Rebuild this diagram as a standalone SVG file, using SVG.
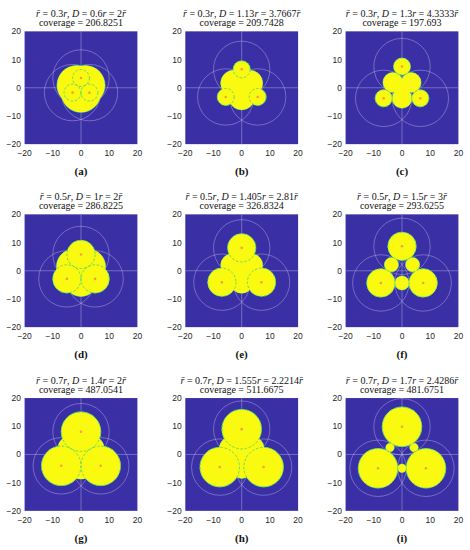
<svg xmlns="http://www.w3.org/2000/svg" width="470" height="550" viewBox="0 0 470 550">
<style>
.bg{fill:#3b2fa6}
.gr{fill:none;stroke:#c2bfe6;stroke-opacity:.6;stroke-width:.25}
.ed{fill:#3cc49a;stroke:#3cc49a;stroke-width:.35}
.yl{fill:#f9fa10}
.gd{fill:none;stroke:#52d66a;stroke-width:.3;stroke-dasharray:.9 .6}
.dt{fill:#f2a03c}
.tk{font-family:"Liberation Sans",Arial,sans-serif;font-size:8.5px;fill:#262626}
.ty{text-anchor:end}
.tx{text-anchor:middle}
.tt{font-family:"Liberation Serif","Times New Roman",serif;font-size:10px;fill:#111;text-anchor:middle}
.lb{font-family:"Liberation Serif","Times New Roman",serif;font-size:11px;font-weight:bold;fill:#111;text-anchor:middle}
.i{font-style:italic}
</style>
<defs>
<clipPath id="cp"><rect x="-20" y="-20" width="40" height="40"/></clipPath>
<g id="sa"><circle cx="0" cy="-3.464" r="3"/><circle cx="-3" cy="1.732" r="3"/><circle cx="3" cy="1.732" r="3"/><circle cx="0" cy="1.732" r="7"/><circle cx="-1.5" cy="-0.866" r="7"/><circle cx="1.5" cy="-0.866" r="7"/></g>
<g id="sb"><circle cx="0" cy="-6.524" r="3"/><circle cx="-5.65" cy="3.262" r="3"/><circle cx="5.65" cy="3.262" r="3"/><circle cx="0" cy="3.262" r="4.6"/><circle cx="-2.825" cy="-1.631" r="4.6"/><circle cx="2.825" cy="-1.631" r="4.6"/></g>
<g id="sc"><circle cx="0" cy="-7.506" r="3"/><circle cx="-6.5" cy="3.753" r="3"/><circle cx="6.5" cy="3.753" r="3"/><circle cx="0" cy="3.753" r="3.5"/><circle cx="-3.25" cy="-1.876" r="3.5"/><circle cx="3.25" cy="-1.876" r="3.5"/><circle cx="0" cy="0" r="2.49"/></g>
<g id="sd"><circle cx="0" cy="-5.774" r="5"/><circle cx="-5" cy="2.887" r="5"/><circle cx="5" cy="2.887" r="5"/><circle cx="0" cy="2.887" r="6.2"/><circle cx="-2.5" cy="-1.443" r="6.2"/><circle cx="2.5" cy="-1.443" r="6.2"/></g>
<g id="se"><circle cx="0" cy="-8.112" r="5"/><circle cx="-7.025" cy="4.056" r="5"/><circle cx="7.025" cy="4.056" r="5"/><circle cx="0" cy="4.056" r="3.9"/><circle cx="-3.5125" cy="-2.028" r="3.9"/><circle cx="3.5125" cy="-2.028" r="3.9"/><circle cx="0" cy="0" r="1.9"/></g>
<g id="sf"><circle cx="0" cy="-8.66" r="5"/><circle cx="-7.5" cy="4.33" r="5"/><circle cx="7.5" cy="4.33" r="5"/><circle cx="0" cy="4.33" r="2.5"/><circle cx="-3.75" cy="-2.165" r="2.5"/><circle cx="3.75" cy="-2.165" r="2.5"/></g>
<g id="sg"><circle cx="0" cy="-8.083" r="7"/><circle cx="-7" cy="4.041" r="7"/><circle cx="7" cy="4.041" r="7"/><circle cx="0" cy="4.041" r="4.7"/><circle cx="-3.5" cy="-2.021" r="4.7"/><circle cx="3.5" cy="-2.021" r="4.7"/></g>
<g id="sh"><circle cx="0" cy="-8.978" r="7"/><circle cx="-7.775" cy="4.489" r="7"/><circle cx="7.775" cy="4.489" r="7"/><circle cx="0" cy="4.489" r="4"/><circle cx="-3.8875" cy="-2.2445" r="4"/><circle cx="3.8875" cy="-2.2445" r="4"/><circle cx="0" cy="0" r="1.4"/></g>
<g id="si"><circle cx="0" cy="-9.815" r="7"/><circle cx="-8.5" cy="4.907" r="7"/><circle cx="8.5" cy="4.907" r="7"/><circle cx="0" cy="4.907" r="1.5"/><circle cx="-4.25" cy="-2.454" r="1.5"/><circle cx="4.25" cy="-2.454" r="1.5"/></g>
</defs>

<g id="panel-a">
<text class="tt" x="81" y="16.8"><tspan class="i">r̄</tspan> = 0.3<tspan class="i">r</tspan>, <tspan class="i">D</tspan> = 0.6<tspan class="i">r</tspan> = 2<tspan class="i">r̄</tspan></text>
<text class="tt" x="81" y="26.3">coverage = 206.8251</text>
<g transform="translate(81,87.75) scale(2.82)">
<rect class="bg" x="-20" y="-20" width="40" height="40"/>
<g clip-path="url(#cp)">
<path class="gr" d="M-20 0H20M0-20V20"/>
<circle class="gr" cx="0" cy="-3.464" r="10"/><circle class="gr" cx="-3" cy="1.732" r="10"/><circle class="gr" cx="3" cy="1.732" r="10"/>
<use href="#sa" class="ed"/><use href="#sa" class="yl"/>
<circle class="gd" cx="0" cy="-3.464" r="3"/><circle class="gd" cx="-3" cy="1.732" r="3"/><circle class="gd" cx="3" cy="1.732" r="3"/>
<circle class="dt" cx="0" cy="-3.464" r=".45"/><circle class="dt" cx="-3" cy="1.732" r=".45"/><circle class="dt" cx="3" cy="1.732" r=".45"/>
</g></g>
<g class="tk"><text class="ty" x="21" y="34.35">20</text><text class="ty" x="21" y="62.55">10</text><text class="ty" x="21" y="90.75">0</text><text class="ty" x="21" y="118.95">−10</text><text class="ty" x="21" y="147.15">−20</text>
<text class="tx" x="24.6" y="156.3">−20</text><text class="tx" x="52.8" y="156.3">−10</text><text class="tx" x="81" y="156.3">0</text><text class="tx" x="109.2" y="156.3">10</text><text class="tx" x="137.4" y="156.3">20</text></g>
<text class="lb" x="81" y="175">(a)</text>
</g>

<g id="panel-b">
<text class="tt" x="241.7" y="16.8"><tspan class="i">r̄</tspan> = 0.3<tspan class="i">r</tspan>, <tspan class="i">D</tspan> = 1.13<tspan class="i">r</tspan> = 3.7667<tspan class="i">r̄</tspan></text>
<text class="tt" x="241.7" y="26.3">coverage = 209.7428</text>
<g transform="translate(241.7,87.75) scale(2.82)">
<rect class="bg" x="-20" y="-20" width="40" height="40"/>
<g clip-path="url(#cp)">
<path class="gr" d="M-20 0H20M0-20V20"/>
<circle class="gr" cx="0" cy="-6.524" r="10"/><circle class="gr" cx="-5.65" cy="3.262" r="10"/><circle class="gr" cx="5.65" cy="3.262" r="10"/>
<use href="#sb" class="ed"/><use href="#sb" class="yl"/>
<circle class="gd" cx="0" cy="-6.524" r="3"/><circle class="gd" cx="-5.65" cy="3.262" r="3"/><circle class="gd" cx="5.65" cy="3.262" r="3"/>
<circle class="dt" cx="0" cy="-6.524" r=".45"/><circle class="dt" cx="-5.65" cy="3.262" r=".45"/><circle class="dt" cx="5.65" cy="3.262" r=".45"/>
</g></g>
<g class="tk"><text class="ty" x="181.7" y="34.35">20</text><text class="ty" x="181.7" y="62.55">10</text><text class="ty" x="181.7" y="90.75">0</text><text class="ty" x="181.7" y="118.95">−10</text><text class="ty" x="181.7" y="147.15">−20</text>
<text class="tx" x="185.3" y="156.3">−20</text><text class="tx" x="213.5" y="156.3">−10</text><text class="tx" x="241.7" y="156.3">0</text><text class="tx" x="269.9" y="156.3">10</text><text class="tx" x="298.1" y="156.3">20</text></g>
<text class="lb" x="241.7" y="175">(b)</text>
</g>

<g id="panel-c">
<text class="tt" x="402" y="16.8"><tspan class="i">r̄</tspan> = 0.3<tspan class="i">r</tspan>, <tspan class="i">D</tspan> = 1.3<tspan class="i">r</tspan> = 4.3333<tspan class="i">r̄</tspan></text>
<text class="tt" x="402" y="26.3">coverage = 197.693</text>
<g transform="translate(402,87.75) scale(2.82)">
<rect class="bg" x="-20" y="-20" width="40" height="40"/>
<g clip-path="url(#cp)">
<path class="gr" d="M-20 0H20M0-20V20"/>
<circle class="gr" cx="0" cy="-7.506" r="10"/><circle class="gr" cx="-6.5" cy="3.753" r="10"/><circle class="gr" cx="6.5" cy="3.753" r="10"/>
<use href="#sc" class="ed"/><use href="#sc" class="yl"/>
<circle class="gd" cx="0" cy="-7.506" r="3"/><circle class="gd" cx="-6.5" cy="3.753" r="3"/><circle class="gd" cx="6.5" cy="3.753" r="3"/>
<circle class="dt" cx="0" cy="-7.506" r=".45"/><circle class="dt" cx="-6.5" cy="3.753" r=".45"/><circle class="dt" cx="6.5" cy="3.753" r=".45"/>
</g></g>
<g class="tk"><text class="ty" x="342" y="34.35">20</text><text class="ty" x="342" y="62.55">10</text><text class="ty" x="342" y="90.75">0</text><text class="ty" x="342" y="118.95">−10</text><text class="ty" x="342" y="147.15">−20</text>
<text class="tx" x="345.6" y="156.3">−20</text><text class="tx" x="373.8" y="156.3">−10</text><text class="tx" x="402" y="156.3">0</text><text class="tx" x="430.2" y="156.3">10</text><text class="tx" x="458.4" y="156.3">20</text></g>
<text class="lb" x="402" y="175">(c)</text>
</g>

<g id="panel-d">
<text class="tt" x="81" y="199.8"><tspan class="i">r̄</tspan> = 0.5<tspan class="i">r</tspan>, <tspan class="i">D</tspan> = 1<tspan class="i">r</tspan> = 2<tspan class="i">r̄</tspan></text>
<text class="tt" x="81" y="209.3">coverage = 286.8225</text>
<g transform="translate(81,270.75) scale(2.82)">
<rect class="bg" x="-20" y="-20" width="40" height="40"/>
<g clip-path="url(#cp)">
<path class="gr" d="M-20 0H20M0-20V20"/>
<circle class="gr" cx="0" cy="-5.774" r="10"/><circle class="gr" cx="-5" cy="2.887" r="10"/><circle class="gr" cx="5" cy="2.887" r="10"/>
<use href="#sd" class="ed"/><use href="#sd" class="yl"/>
<circle class="gd" cx="0" cy="-5.774" r="5"/><circle class="gd" cx="-5" cy="2.887" r="5"/><circle class="gd" cx="5" cy="2.887" r="5"/>
<circle class="dt" cx="0" cy="-5.774" r=".45"/><circle class="dt" cx="-5" cy="2.887" r=".45"/><circle class="dt" cx="5" cy="2.887" r=".45"/>
</g></g>
<g class="tk"><text class="ty" x="21" y="217.35">20</text><text class="ty" x="21" y="245.55">10</text><text class="ty" x="21" y="273.75">0</text><text class="ty" x="21" y="301.95">−10</text><text class="ty" x="21" y="330.15">−20</text>
<text class="tx" x="24.6" y="339.3">−20</text><text class="tx" x="52.8" y="339.3">−10</text><text class="tx" x="81" y="339.3">0</text><text class="tx" x="109.2" y="339.3">10</text><text class="tx" x="137.4" y="339.3">20</text></g>
<text class="lb" x="81" y="358">(d)</text>
</g>

<g id="panel-e">
<text class="tt" x="241.7" y="199.8"><tspan class="i">r̄</tspan> = 0.5<tspan class="i">r</tspan>, <tspan class="i">D</tspan> = 1.405<tspan class="i">r</tspan> = 2.81<tspan class="i">r̄</tspan></text>
<text class="tt" x="241.7" y="209.3">coverage = 326.8324</text>
<g transform="translate(241.7,270.75) scale(2.82)">
<rect class="bg" x="-20" y="-20" width="40" height="40"/>
<g clip-path="url(#cp)">
<path class="gr" d="M-20 0H20M0-20V20"/>
<circle class="gr" cx="0" cy="-8.112" r="10"/><circle class="gr" cx="-7.025" cy="4.056" r="10"/><circle class="gr" cx="7.025" cy="4.056" r="10"/>
<use href="#se" class="ed"/><use href="#se" class="yl"/>
<circle class="gd" cx="0" cy="-8.112" r="5"/><circle class="gd" cx="-7.025" cy="4.056" r="5"/><circle class="gd" cx="7.025" cy="4.056" r="5"/>
<circle class="dt" cx="0" cy="-8.112" r=".45"/><circle class="dt" cx="-7.025" cy="4.056" r=".45"/><circle class="dt" cx="7.025" cy="4.056" r=".45"/>
</g></g>
<g class="tk"><text class="ty" x="181.7" y="217.35">20</text><text class="ty" x="181.7" y="245.55">10</text><text class="ty" x="181.7" y="273.75">0</text><text class="ty" x="181.7" y="301.95">−10</text><text class="ty" x="181.7" y="330.15">−20</text>
<text class="tx" x="185.3" y="339.3">−20</text><text class="tx" x="213.5" y="339.3">−10</text><text class="tx" x="241.7" y="339.3">0</text><text class="tx" x="269.9" y="339.3">10</text><text class="tx" x="298.1" y="339.3">20</text></g>
<text class="lb" x="241.7" y="358">(e)</text>
</g>

<g id="panel-f">
<text class="tt" x="402" y="199.8"><tspan class="i">r̄</tspan> = 0.5<tspan class="i">r</tspan>, <tspan class="i">D</tspan> = 1.5<tspan class="i">r</tspan> = 3<tspan class="i">r̄</tspan></text>
<text class="tt" x="402" y="209.3">coverage = 293.6255</text>
<g transform="translate(402,270.75) scale(2.82)">
<rect class="bg" x="-20" y="-20" width="40" height="40"/>
<g clip-path="url(#cp)">
<path class="gr" d="M-20 0H20M0-20V20"/>
<circle class="gr" cx="0" cy="-8.66" r="10"/><circle class="gr" cx="-7.5" cy="4.33" r="10"/><circle class="gr" cx="7.5" cy="4.33" r="10"/>
<use href="#sf" class="ed"/><use href="#sf" class="yl"/>
<circle class="gd" cx="0" cy="-8.66" r="5"/><circle class="gd" cx="-7.5" cy="4.33" r="5"/><circle class="gd" cx="7.5" cy="4.33" r="5"/>
<circle class="dt" cx="0" cy="-8.66" r=".45"/><circle class="dt" cx="-7.5" cy="4.33" r=".45"/><circle class="dt" cx="7.5" cy="4.33" r=".45"/>
</g></g>
<g class="tk"><text class="ty" x="342" y="217.35">20</text><text class="ty" x="342" y="245.55">10</text><text class="ty" x="342" y="273.75">0</text><text class="ty" x="342" y="301.95">−10</text><text class="ty" x="342" y="330.15">−20</text>
<text class="tx" x="345.6" y="339.3">−20</text><text class="tx" x="373.8" y="339.3">−10</text><text class="tx" x="402" y="339.3">0</text><text class="tx" x="430.2" y="339.3">10</text><text class="tx" x="458.4" y="339.3">20</text></g>
<text class="lb" x="402" y="358">(f)</text>
</g>

<g id="panel-g">
<text class="tt" x="81" y="383.5"><tspan class="i">r̄</tspan> = 0.7<tspan class="i">r</tspan>, <tspan class="i">D</tspan> = 1.4<tspan class="i">r</tspan> = 2<tspan class="i">r̄</tspan></text>
<text class="tt" x="81" y="393">coverage = 487.0541</text>
<g transform="translate(81,454.45) scale(2.82)">
<rect class="bg" x="-20" y="-20" width="40" height="40"/>
<g clip-path="url(#cp)">
<path class="gr" d="M-20 0H20M0-20V20"/>
<circle class="gr" cx="0" cy="-8.083" r="10"/><circle class="gr" cx="-7" cy="4.041" r="10"/><circle class="gr" cx="7" cy="4.041" r="10"/>
<use href="#sg" class="ed"/><use href="#sg" class="yl"/>
<circle class="gd" cx="0" cy="-8.083" r="7"/><circle class="gd" cx="-7" cy="4.041" r="7"/><circle class="gd" cx="7" cy="4.041" r="7"/>
<circle class="dt" cx="0" cy="-8.083" r=".45"/><circle class="dt" cx="-7" cy="4.041" r=".45"/><circle class="dt" cx="7" cy="4.041" r=".45"/>
</g></g>
<g class="tk"><text class="ty" x="21" y="401.05">20</text><text class="ty" x="21" y="429.25">10</text><text class="ty" x="21" y="457.45">0</text><text class="ty" x="21" y="485.65">−10</text><text class="ty" x="21" y="513.85">−20</text>
<text class="tx" x="24.6" y="523">−20</text><text class="tx" x="52.8" y="523">−10</text><text class="tx" x="81" y="523">0</text><text class="tx" x="109.2" y="523">10</text><text class="tx" x="137.4" y="523">20</text></g>
<text class="lb" x="81" y="541.7">(g)</text>
</g>

<g id="panel-h">
<text class="tt" x="241.7" y="383.5"><tspan class="i">r̄</tspan> = 0.7<tspan class="i">r</tspan>, <tspan class="i">D</tspan> = 1.555<tspan class="i">r</tspan> = 2.2214<tspan class="i">r̄</tspan></text>
<text class="tt" x="241.7" y="393">coverage = 511.6675</text>
<g transform="translate(241.7,454.45) scale(2.82)">
<rect class="bg" x="-20" y="-20" width="40" height="40"/>
<g clip-path="url(#cp)">
<path class="gr" d="M-20 0H20M0-20V20"/>
<circle class="gr" cx="0" cy="-8.978" r="10"/><circle class="gr" cx="-7.775" cy="4.489" r="10"/><circle class="gr" cx="7.775" cy="4.489" r="10"/>
<use href="#sh" class="ed"/><use href="#sh" class="yl"/>
<circle class="gd" cx="0" cy="-8.978" r="7"/><circle class="gd" cx="-7.775" cy="4.489" r="7"/><circle class="gd" cx="7.775" cy="4.489" r="7"/>
<circle class="dt" cx="0" cy="-8.978" r=".45"/><circle class="dt" cx="-7.775" cy="4.489" r=".45"/><circle class="dt" cx="7.775" cy="4.489" r=".45"/>
</g></g>
<g class="tk"><text class="ty" x="181.7" y="401.05">20</text><text class="ty" x="181.7" y="429.25">10</text><text class="ty" x="181.7" y="457.45">0</text><text class="ty" x="181.7" y="485.65">−10</text><text class="ty" x="181.7" y="513.85">−20</text>
<text class="tx" x="185.3" y="523">−20</text><text class="tx" x="213.5" y="523">−10</text><text class="tx" x="241.7" y="523">0</text><text class="tx" x="269.9" y="523">10</text><text class="tx" x="298.1" y="523">20</text></g>
<text class="lb" x="241.7" y="541.7">(h)</text>
</g>

<g id="panel-i">
<text class="tt" x="402" y="383.5"><tspan class="i">r̄</tspan> = 0.7<tspan class="i">r</tspan>, <tspan class="i">D</tspan> = 1.7<tspan class="i">r</tspan> = 2.4286<tspan class="i">r̄</tspan></text>
<text class="tt" x="402" y="393">coverage = 481.6751</text>
<g transform="translate(402,454.45) scale(2.82)">
<rect class="bg" x="-20" y="-20" width="40" height="40"/>
<g clip-path="url(#cp)">
<path class="gr" d="M-20 0H20M0-20V20"/>
<circle class="gr" cx="0" cy="-9.815" r="10"/><circle class="gr" cx="-8.5" cy="4.907" r="10"/><circle class="gr" cx="8.5" cy="4.907" r="10"/>
<use href="#si" class="ed"/><use href="#si" class="yl"/>
<circle class="gd" cx="0" cy="-9.815" r="7"/><circle class="gd" cx="-8.5" cy="4.907" r="7"/><circle class="gd" cx="8.5" cy="4.907" r="7"/>
<circle class="dt" cx="0" cy="-9.815" r=".45"/><circle class="dt" cx="-8.5" cy="4.907" r=".45"/><circle class="dt" cx="8.5" cy="4.907" r=".45"/>
</g></g>
<g class="tk"><text class="ty" x="342" y="401.05">20</text><text class="ty" x="342" y="429.25">10</text><text class="ty" x="342" y="457.45">0</text><text class="ty" x="342" y="485.65">−10</text><text class="ty" x="342" y="513.85">−20</text>
<text class="tx" x="345.6" y="523">−20</text><text class="tx" x="373.8" y="523">−10</text><text class="tx" x="402" y="523">0</text><text class="tx" x="430.2" y="523">10</text><text class="tx" x="458.4" y="523">20</text></g>
<text class="lb" x="402" y="541.7">(i)</text>
</g>
</svg>
